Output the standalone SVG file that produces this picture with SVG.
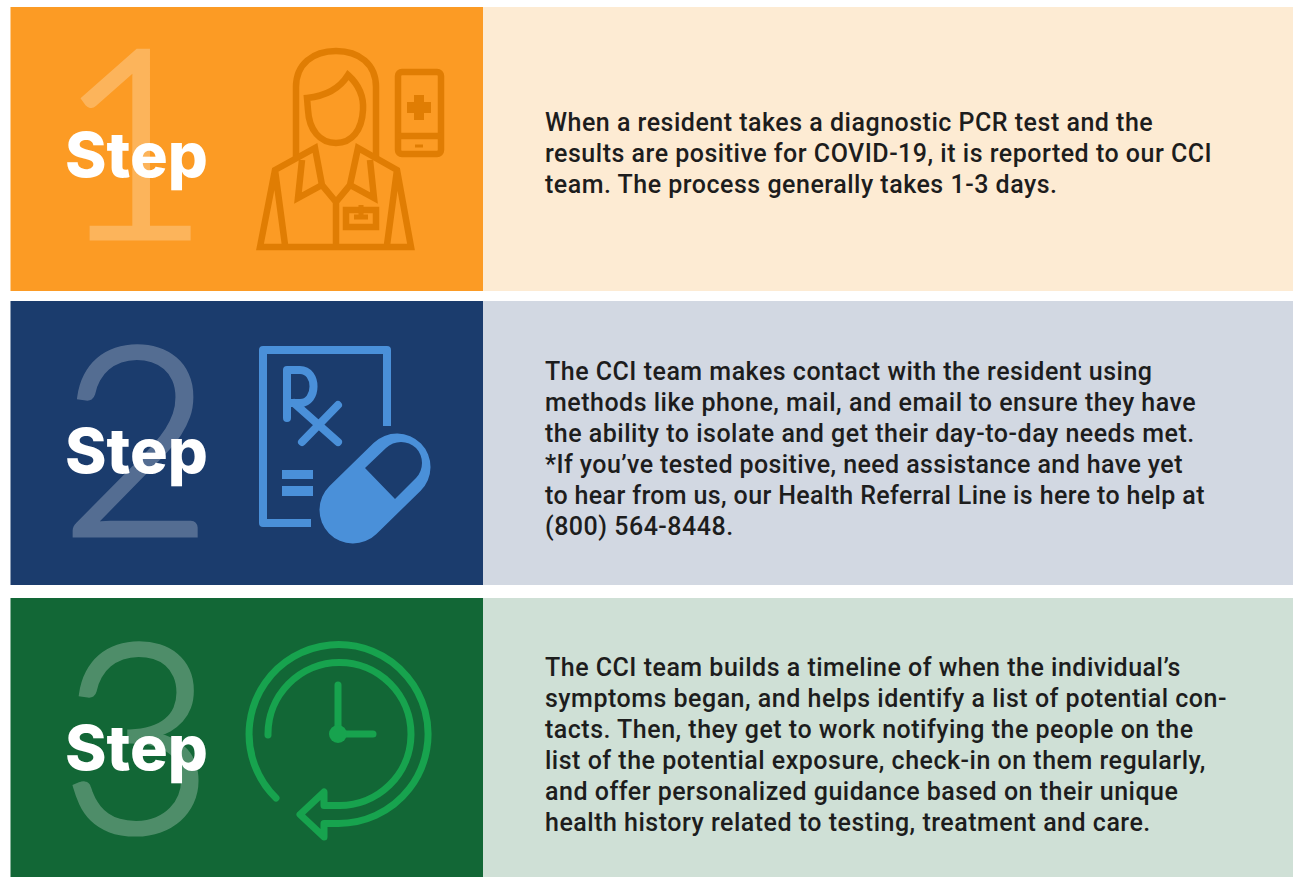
<svg xmlns="http://www.w3.org/2000/svg" width="1293" height="877" viewBox="0 0 1293 877">
<style>
.num{font-family:"Lato","Liberation Sans",sans-serif;font-weight:300;font-size:263px;fill:#fff;stroke:#fff;stroke-width:5px;opacity:.25}
.step{font-family:"Inter","Liberation Sans",sans-serif;font-weight:800;font-size:62px;fill:#fff}
.body{font-family:"Roboto","Liberation Sans",sans-serif;font-weight:500;font-size:25px;letter-spacing:.5px;fill:#1d1d1d}
.i1{fill:none;stroke:#e07d03;stroke-width:6.500;stroke-linejoin:miter}
.i2{fill:none;stroke:#4a90d9;stroke-width:8;stroke-linecap:round;stroke-linejoin:round}
.i3{fill:none;stroke:#17a34e;stroke-width:7;stroke-linecap:round;stroke-linejoin:round}
</style>
<rect width="1293" height="877" fill="#fff"/>
<g id="step1">
<rect x="10.500" y="7" width="472.500" height="284" fill="#fc9b24"/>
<rect x="483" y="7" width="810" height="284" fill="#fdebd3"/>
<text class="num" x="57" y="238">1</text>
<g class="i1">
<path d="M296 157V87C296 64 313 51 336 51S376 64 376 87V157"/>
<path d="M307 98C326 96 340 88 348 75C358 84 364 95 363 110C362 130 352 143 336 143S309 130 308 110Z"/>
<path d="M260 247L275 170L315 148L322 185L336 202L350 185L358 148L397 170L411 247ZM285 245L275 170M387 245L397 170M336 202V245"/>
<path d="M302 160L298 198L322 185M370 160L374 198L350 185"/>
<rect x="346" y="210" width="30" height="17"/>
<path d="M354 217H368M361 205V217" stroke-width="5"/>
<rect x="398" y="72" width="43" height="82" rx="4"/>
<path d="M398 136H441"/>
</g>
<path d="M415 146H423" stroke="#e07d03" stroke-width="3"/>
<path d="M414 95H424V102H431V113H424V120H414V113H407V102H414Z" fill="#e07d03"/>
<text class="step" x="65" y="177" textLength="143" lengthAdjust="spacingAndGlyphs">Step</text>
<text class="body" x="545" y="131">When a resident takes a diagnostic PCR test and the</text>
<text class="body" x="545" y="162">results are positive for COVID-19, it is reported to our CCI</text>
<text class="body" x="545" y="193">team. The process generally takes 1-3 days.</text>
</g>
<g id="step2">
<rect x="10.500" y="301" width="472.500" height="284" fill="#1b3c6d"/>
<rect x="483" y="301" width="810" height="284" fill="#d2d8e2"/>
<text class="num" x="60" y="535">2</text>
<g class="i2">
<path d="M311 523H263V350H387V426" stroke-linecap="butt"/>
<path d="M287 418V370H300C318 370 318 403 300 403H288"/>
<path d="M294 403L338 442M338 405L302 442"/>
<path d="M397 467L353 510" stroke="#4a90d9" stroke-width="67"/>
</g>
<path d="M365 468L395 499L416 478C424 470 424 456 416 448C408 440 394 440 386 448Z" fill="#1b3c6d"/>
<path d="M282 470H313V479H282ZM282 486H313V496H282Z" fill="#4a90d9"/>
<text class="step" x="65" y="473" textLength="143" lengthAdjust="spacingAndGlyphs">Step</text>
<text class="body" x="545" y="380">The CCI team makes contact with the resident using</text>
<text class="body" x="545" y="411">methods like phone, mail, and email to ensure they have</text>
<text class="body" x="545" y="442">the ability to isolate and get their day-to-day needs met.</text>
<text class="body" x="545" y="473" textLength="638">*If you’ve tested positive, need assistance and have yet</text>
<text class="body" x="545" y="504" textLength="660">to hear from us, our Health Referral Line is here to help at</text>
<text class="body" x="545" y="535">(800) 564-8448.</text>
</g>
<g id="step3">
<rect x="10.500" y="598" width="472.500" height="279" fill="#126736"/>
<rect x="483" y="598" width="810" height="279" fill="#cfe0d6"/>
<text class="num" x="61" y="832">3</text>
<g class="i3">
<path d="M276 798A89.500 89.500 0 1 1 338 823.500L324 823.500V837L300 814.500L324 792V805.500L338 805.500A71.500 71.500 0 1 0 268 735"/>
<path d="M338 685V734H373"/>
</g>
<circle cx="338" cy="734" r="9" fill="#17a34e"/>
<text class="step" x="65" y="770" textLength="143" lengthAdjust="spacingAndGlyphs">Step</text>
<text class="body" x="545" y="676">The CCI team builds a timeline of when the individual’s</text>
<text class="body" x="545" y="707">symptoms began, and helps identify a list of potential con-</text>
<text class="body" x="545" y="738">tacts. Then, they get to work notifying the people on the</text>
<text class="body" x="545" y="769">list of the potential exposure, check-in on them regularly,</text>
<text class="body" x="545" y="800">and offer personalized guidance based on their unique</text>
<text class="body" x="545" y="831">health history related to testing, treatment and care.</text>
</g>
</svg>
